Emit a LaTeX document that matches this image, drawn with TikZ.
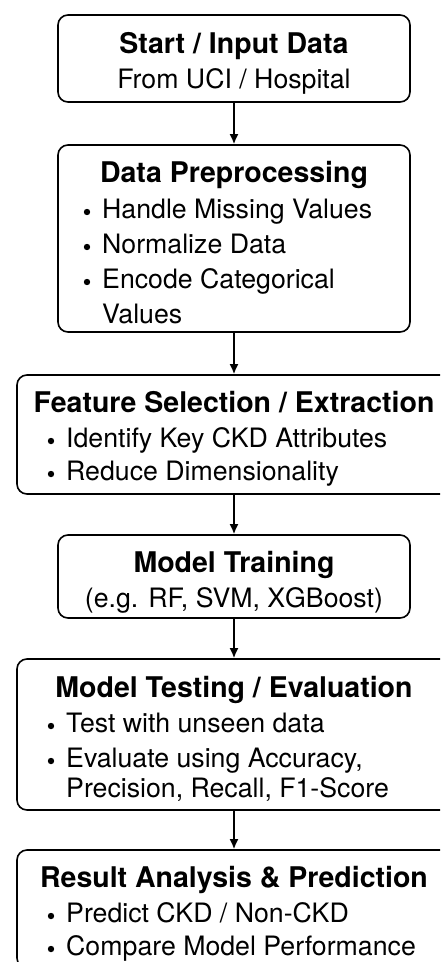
\documentclass[tikz,border=0pt]{standalone}
\usepackage{fontspec}
\setmainfont{TeX Gyre Heros}
\usetikzlibrary{arrows.meta}

\newcommand{\bul}{\llap{\tikz[baseline = 0pt] \fill (0, 6pt) circle (3.2pt);\hspace{12pt}}}

\tikzset{
	box/.style = {draw, rounded corners = 10pt, line width = 1.6pt, inner sep = 0pt},
	ttl/.style = {anchor = base, inner sep = 0pt, font = \fontsize{28.5}{33}\selectfont\bfseries},
	txt/.style = {anchor = base, inner sep = 0pt, font = \fontsize{26.7}{33}\selectfont},
	itm/.style = {txt, anchor = base west, execute at begin node = {\bul}},
	cont/.style = {txt, anchor = base west},
	arr/.style = {-{Latex[length = 10pt, width = 9pt]}, line width = 1.7pt}
}

\begin{document}
\begin{tikzpicture}[x = 1pt, y = -1pt]

	% Definition

	\def\M{234};

	\useasboundingbox (0, 0) rectangle (440, 962);
	\clip (0, 0) rectangle (440, 962);

	% The boxes

	\node [box, minimum width = 352pt, minimum height = 87pt] (start) at (\M, 58.5) {};
	\node [box, minimum width = 352pt, minimum height = 187pt] (prep) at (\M, 238.5) {};
	\node [box, minimum width = 434pt, minimum height = 119pt] (feat) at (\M, 434.5) {};
	\node [box, minimum width = 352pt, minimum height = 83pt] (train) at (\M, 576.5) {};
	\node [box, minimum width = 434pt, minimum height = 151pt] (test) at (\M, 734.5) {};
	\node [box, minimum width = 434pt, minimum height = 118pt] (result) at (\M, 909) {};

	% Texts

	\node [ttl] (start-t) at (\M, 53) {Start / Input Data};
	\node [txt] (start-s) at (\M, 88) {From UCI / Hospital};

	\node [ttl] (prep-t) at (\M, 182) {Data Preprocessing};
	\node [itm] (prep-a) at (102, 218) {Handle Missing Values};
	\node [itm] (prep-b) at (102, 253) {Normalize Data};
	\node [itm] (prep-c) at (102, 288) {Encode Categorical};
	\node [cont] (prep-d) at (102, 323) {Values};

	\node [ttl] (feat-t) at (\M, 412) {Feature Selection / Extraction};
	\node [itm] (feat-a) at (66, 447) {Identify Key CKD Attributes};
	\node [itm] (feat-b) at (66, 480) {Reduce Dimensionality};

	\node [ttl] (train-t) at (\M, 572) {Model Training};
	\node [txt] (train-s) at (\M, 607) {(e.g. RF, SVM, XGBoost)};

	\node [ttl] (test-t) at (\M, 697) {Model Testing / Evaluation};
	\node [itm] (test-a) at (66, 732) {Test with unseen data};
	\node [itm] (test-b) at (66, 767) {Evaluate using Accuracy,};
	\node [cont] (test-c) at (66, 797) {Precision, Recall, F1-Score};

	\node [ttl] (result-t) at (\M, 887) {Result Analysis \& Prediction};
	\node [itm] (result-a) at (66, 922) {Predict CKD / Non-CKD};
	\node [itm] (result-b) at (66, 955) {Compare Model Performance};

	% Arrows

	\foreach \a/\b in {start/prep, prep/feat, feat/train, train/test, test/result}
		\draw [arr] (\a) -- (\b);

\end{tikzpicture}
\end{document}
